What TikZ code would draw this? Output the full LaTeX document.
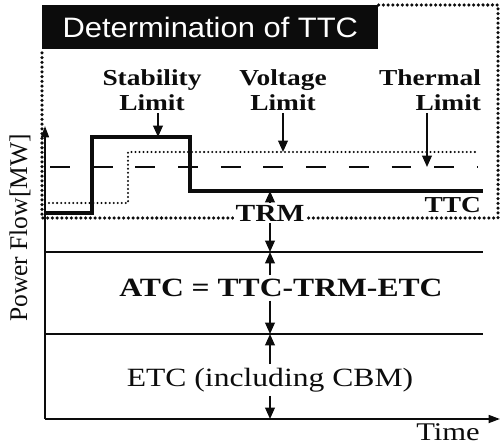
\documentclass[tikz,border=0pt]{standalone}
\usepackage{fontspec}
\newfontfamily\figfont[FakeStretch=1.2]{Liberation Serif}
\newfontfamily\axisfont{Liberation Serif}
\newfontfamily\headfont[FakeStretch=1.1]{Liberation Sans}
\usetikzlibrary{arrows.meta,positioning,calc}
\definecolor{ink}{RGB}{12,12,12}
\tikzset{
  every picture/.style={color=ink},
  axis/.style={line width=1.1pt, -{Triangle[length=6.5pt,width=4.5pt]}},
  level/.style={line width=0.85pt},
  ttcline/.style={line width=1.8pt},
  voltline/.style={line width=1.3pt, line cap=round, dash pattern=on 0pt off 2.3pt},
  thermline/.style={line width=1.4pt, dash pattern=on 11.3pt off 13pt},
  frame/.style={line width=2pt, line cap=round, dash pattern=on 0pt off 2.7pt},
  pointer/.style={line width=1pt, -{Triangle[length=6.5pt,width=5.5pt]}},
  lbl/.style={font=\figfont\fontsize{13}{14.5}\selectfont\bfseries, align=center, inner sep=1pt},
  big/.style={font=\figfont\fontsize{15}{17}\selectfont, inner sep=2pt},
}

\begin{document}
\begin{tikzpicture}[x=0.02cm, y=-0.02cm]
  \useasboundingbox (0,0) rectangle (500,446);
  % title and the dotted frame round the limits
  \node[fill=ink, text=white, font=\headfont\fontsize{16}{18}\selectfont, anchor=north west, minimum width=6.72cm, minimum height=0.88cm, inner sep=0pt] (title) at (42,5) {Determination of TTC};
  \draw[frame] (title.north east) -| (498,218) -| (title.south west);
  % axes
  \coordinate (o) at (45,419);
  \draw[axis] (o) -- (45,126);
  \draw[axis] (o) -- (500,419);
  \node[font=\axisfont\fontsize{14.5}{16}\selectfont, rotate=90] (pf) at (20,228) {Power Flow[MW]};
  \node[big, font=\figfont\fontsize{14.5}{16}\selectfont, inner sep=0pt] (time) at (448,432) {Time};
  % limit curves
  \draw[thermline] (50,167) -- (478,167);
  \draw[voltline] (45,203) -| (128,152) -- (478,152);
  \draw[ttcline] (45,213) -| (92,137) -| (190,191) -- (483,191);
  \draw[level] (45,252) -- (483,252);
  \draw[level] (45,334) -- (483,334);
  \node[lbl] (stab) at (152,90) {Stability\\Limit};
  \node[lbl] (volt) at (283,90) {Voltage\\Limit};
  \node[lbl, align=right] (therm) at (430,90) {Thermal\\Limit};
  \coordinate (stabtip) at (158,137);
  \coordinate (volttip) at (283,152);
  \coordinate (thermtip) at (427,167);
  \draw[pointer] (stab.south -| stabtip) -- (stabtip);
  \draw[pointer] (volt.south -| volttip) -- (volttip);
  \draw[pointer] (therm.south -| thermtip) -- (thermtip);
  \node[font=\figfont\fontsize{13}{14}\selectfont\bfseries, anchor=east, inner sep=1pt] (ttc) at (483,205) {TTC};
  % margins down to the axis
  \coordinate (t1) at (270,191);
  \coordinate (t2) at (270,252);
  \coordinate (t3) at (270,334);
  \coordinate (t4) at (270,419);
  \node[big, font=\figfont\fontsize{14}{15}\selectfont\bfseries, fill=white, inner sep=1pt] (trm) at (270,213) {TRM};
  \draw[pointer] (trm) -- (t1);
  \draw[pointer] (trm) -- (t2);
  \node[big, font=\figfont\fontsize{15}{17}\selectfont\bfseries] (atc) at (281,288) {ATC = TTC-TRM-ETC};
  \draw[pointer] (atc.north -| t2) -- (t2);
  \draw[pointer] (atc.south -| t3) -- (t3);
  \node[big] (etc) at (270,380) {ETC (including CBM)};
  \draw[pointer] (etc) -- (t3);
  \draw[pointer] (etc) -- (t4);
\end{tikzpicture}
\end{document}
